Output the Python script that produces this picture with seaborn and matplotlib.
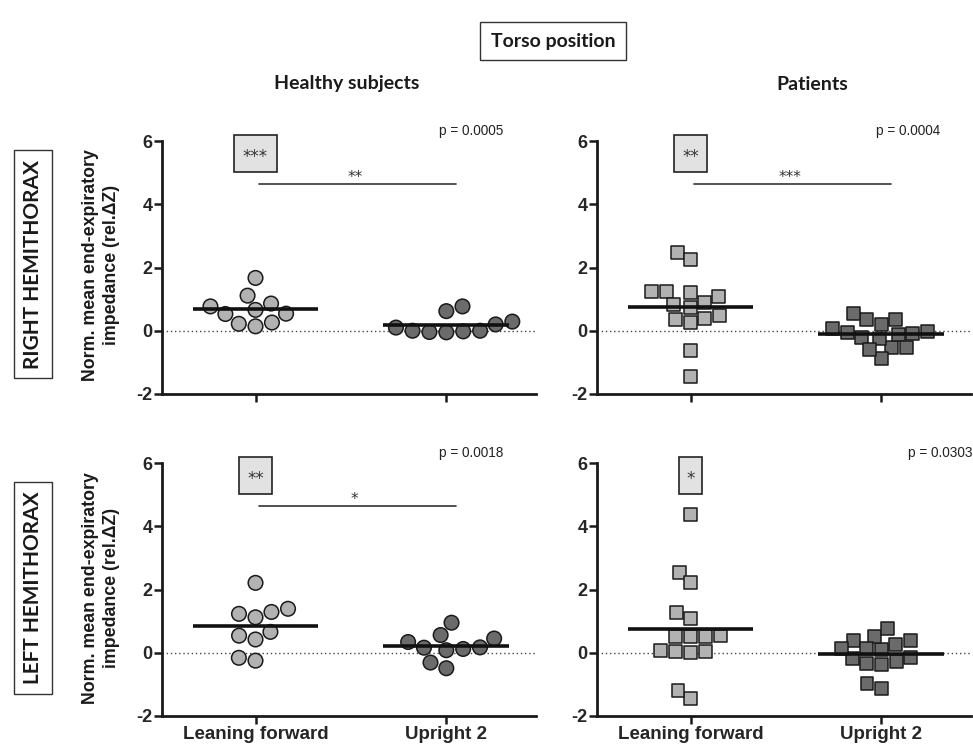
import matplotlib
matplotlib.use("Agg")
import matplotlib.pyplot as plt
from matplotlib.patches import Rectangle
import seaborn as sns
import pandas as pd

positions = ["Leaning forward", "Upright 2"]

healthy_right_lf = [1.67, 1.11, 0.77, 0.86, 0.54, 0.66, 0.53, 0.26, 0.14, 0.22]
healthy_right_up = [0.20, 0.00, -0.02, 0.77, -0.05, 0.62, -0.04, 0.00, 0.10, 0.29]
patients_right_lf = [2.48, 2.26, 1.24, 1.21, 1.23, 1.07, 0.88, 0.82, 0.74, 0.39,
                     0.25, 0.37, 0.49, -0.62, -1.46]
patients_right_up = [-0.02, -0.10, 0.37, -0.54, -0.20, 0.21, -0.87, -0.26, 0.35, -0.60,
                     -0.13, 0.54, -0.52, -0.05, 0.06]
healthy_left_lf = [2.21, 1.29, 1.39, 1.12, 1.23, 0.66, 0.54, 0.42, -0.25, -0.16]
healthy_left_up = [0.45, 0.17, 0.12, 0.95, 0.08, 0.16, -0.49, -0.31, 0.34, 0.56]
patients_left_lf = [4.37, 2.55, 2.23, 1.27, 1.08, 0.53, 0.52, 0.52, 0.51, 0.08,
                    0.03, 0.02, 0.05, -1.45, -1.19]
patients_left_up = [0.11, 0.52, -0.18, 0.39, -0.35, 0.76, 0.14, -0.37, 0.27, -0.27,
                    0.40, -0.15, 0.13, -1.12, -0.97]

p_values = ["p = 0.0005", "p = 0.0004", "p = 0.0018", "p = 0.0303"]
box_stars = ["***", "**", "**", "*"]
bar_stars = ["**", "***", "*", None]

panels = [
    (healthy_right_lf, healthy_right_up, "o"),
    (patients_right_lf, patients_right_up, "s"),
    (healthy_left_lf, healthy_left_up, "o"),
    (patients_left_lf, patients_left_up, "s"),
]

sns.set_style("ticks")
plt.rcParams["font.family"] = ["Liberation Sans", "DejaVu Sans"]
plt.rcParams["axes.unicode_minus"] = False

fig = plt.figure(figsize=(9.73, 7.45), dpi=100)
W, H = 973, 745

# axes boxes in pixels: left, top
ax_boxes = [(162, 141), (597, 141), (162, 463), (597, 463)]
ax_w, ax_h = 374, 253
p_x = [1.30, 1.31, 1.30, 1.48]
palette = {"Leaning forward": "#b2b2b2", "Upright 2": "#6b6b6b"}

for i, ((lf, up, marker), (left, top)) in enumerate(zip(panels, ax_boxes)):
    ax = fig.add_axes([left / W, 1 - (top + ax_h) / H, ax_w / W, ax_h / H])
    df = pd.DataFrame({
        "position": [positions[0]] * len(lf) + [positions[1]] * len(up),
        "value": lf + up,
    })
    ax.axhline(0, ls=(0, (1, 2)), color="#444444", lw=1, zorder=0)
    sns.swarmplot(data=df, x="position", y="value", hue="position", order=positions,
                  palette=palette, marker=marker, size=10.5 if marker == "o" else 9.3,
                  edgecolor="#1a1a1a", linewidth=1.1, legend=False, ax=ax, zorder=3)
    means = df.groupby("position")["value"].mean()
    for k, pos in enumerate(positions):
        ax.hlines(means[pos], k - 0.33, k + 0.33, color="#111111", lw=2.6, zorder=4)

    ax.set_xlim(-0.49, 1.47)
    ax.set_ylim(-2, 6)
    ax.set_yticks([-2, 0, 2, 4, 6])
    ax.set_xlabel("")
    ax.set_ylabel("")
    sns.despine(ax=ax)
    for sp in ["left", "bottom"]:
        ax.spines[sp].set_linewidth(2)
        ax.spines[sp].set_color("#1a1a1a")
    ax.tick_params(direction="out", length=6, width=1.8, color="#1a1a1a",
                   labelsize=13, pad=1)
    for lab in ax.get_yticklabels():
        lab.set_fontweight("bold")
    if i < 2:
        ax.set_xticklabels([])
    else:
        ax.set_xticklabels(positions, fontweight="bold", fontsize=13.5)

    # grey box with stars over Leaning forward
    n = len(box_stars[i])
    bw = (11.5 + 10.5 * n) / 190
    ax.add_patch(Rectangle((-bw / 2, 5.02), bw, 1.17, facecolor="#e2e2e2",
                           edgecolor="#222222", lw=1.2, clip_on=False, zorder=5))
    ax.text(0, 5.5, box_stars[i], ha="center", va="center", fontsize=12,
            family="DejaVu Sans", color="#333333", zorder=6)

    if bar_stars[i]:
        ax.plot([0.02, 1.05], [4.64, 4.64], color="#333333", lw=1.2, clip_on=False)
        ax.text(0.52, 4.62, bar_stars[i], ha="center", va="bottom", fontsize=11,
                family="DejaVu Sans", color="#333333")

    ax.text(p_x[i], 6.32, p_values[i], ha="right", va="center", fontsize=9.8,
            color="#222222", clip_on=False)

ylab = "Norm. mean end-expiratory\nimpedance (rel.ΔZ)"
for yc in [265, 588]:
    fig.text(101 / W, 1 - yc / H, ylab, rotation=90, ha="center", va="center",
             fontsize=12.8, fontweight="bold", linespacing=1.25, color="#1a1a1a")

head = dict(family=["Lato", "DejaVu Sans"], fontweight="bold", color="#1a1a1a")
fig.text(553 / W, 1 - 41 / H, "Torso position", ha="center", va="center", fontsize=14,
         bbox=dict(boxstyle="square,pad=0.55", fc="white", ec="#333333", lw=1), **head)
fig.text(347 / W, 1 - 84 / H, "Healthy subjects", ha="center", va="center",
         fontsize=14, **head)
fig.text(812 / W, 1 - 85 / H, "Patients", ha="center", va="center", fontsize=14, **head)
for label, yc in [("RIGHT HEMITHORAX", 264), ("LEFT HEMITHORAX", 588)]:
    fig.text(33 / W, 1 - yc / H, label, rotation=90, ha="center", va="center",
             fontsize=15, bbox=dict(boxstyle="square,pad=0.45", fc="white",
                                    ec="#333333", lw=1), **head)

fig.savefig("out.png", dpi=100)
